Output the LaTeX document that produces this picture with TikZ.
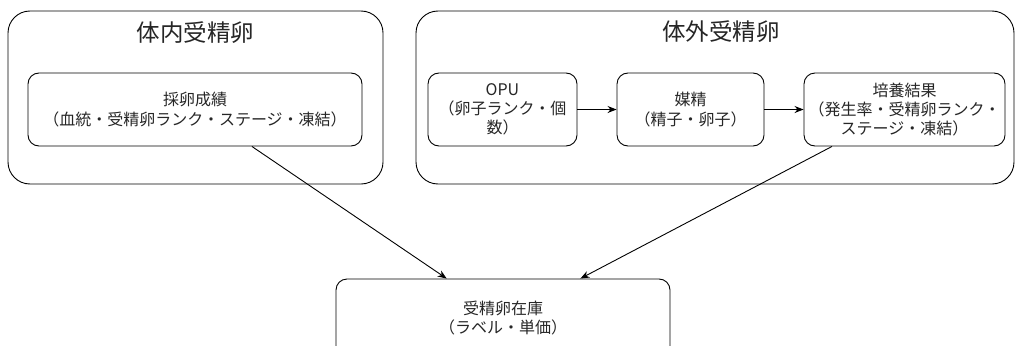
\documentclass[tikz,border=0pt]{standalone}
\usepackage{fontspec}
\setmainfont{Noto Sans CJK JP}
\usepackage{tikz}
\usetikzlibrary{arrows.meta}

\tikzset{
  outerbox/.style={draw, rounded corners=22pt, line width=0.9pt, inner sep=0pt},
  stepbox/.style={draw, rounded corners=11pt, line width=0.9pt, inner sep=0pt, align=center,
    text=black!85, font=\fontsize{16}{19.2}\selectfont},
  titletext/.style={text=black!85, inner sep=0pt, font=\fontsize{23.5}{28}\selectfont},
}

\begin{document}
\begin{tikzpicture}[x=1pt, y=-1pt, >={Stealth[length=9pt,width=7pt]}]
            \useasboundingbox (0,0) rectangle (1016,345);
            \clip (0,0) rectangle (1016,345);

            % groups
            \node[outerbox, minimum width=375pt, minimum height=173pt] (invivo) at (195.5,97.5) {};
            \node[outerbox, minimum width=598pt, minimum height=173pt] (invitro) at (715,97.5) {};
            \node[titletext] (invivotitle) at (195.5,33) {体内受精卵};
            \node[titletext] (invitrotitle) at (721,32) {体外受精卵};

            % steps
            \node[stepbox, minimum width=334pt, minimum height=73pt] (sairan) at (195,109.5)
                {採卵成績\\（血統・受精卵ランク・ステージ・凍結）};
            \node[stepbox, minimum width=149pt, minimum height=73pt] (opu) at (502.5,109.5)
                {OPU\\（卵子ランク・個\\数）};
            \node[stepbox, minimum width=147pt, minimum height=73pt] (baisei) at (690.5,109.5)
                {媒精\\（精子・卵子）};
            \node[stepbox, minimum width=201pt, minimum height=73pt] (baiyou) at (904.5,109.5)
                {培養結果\\（発生率・受精卵ランク・\\ステージ・凍結）};
            \node[stepbox, minimum width=334pt, minimum height=78pt] (stock) at (503,318)
                {受精卵在庫\\（ラベル・単価）};

            \draw[->, line width=0.9pt] (opu) -- (baisei);
            \draw[->, line width=0.9pt] (baisei) -- (baiyou);
            \draw[->, line width=0.9pt] (sairan.-33.6) -- (stock.145.1);
            \draw[->, line width=0.9pt] (baiyou.-153) -- (stock.27.8);
        \end{tikzpicture}
\end{document}
